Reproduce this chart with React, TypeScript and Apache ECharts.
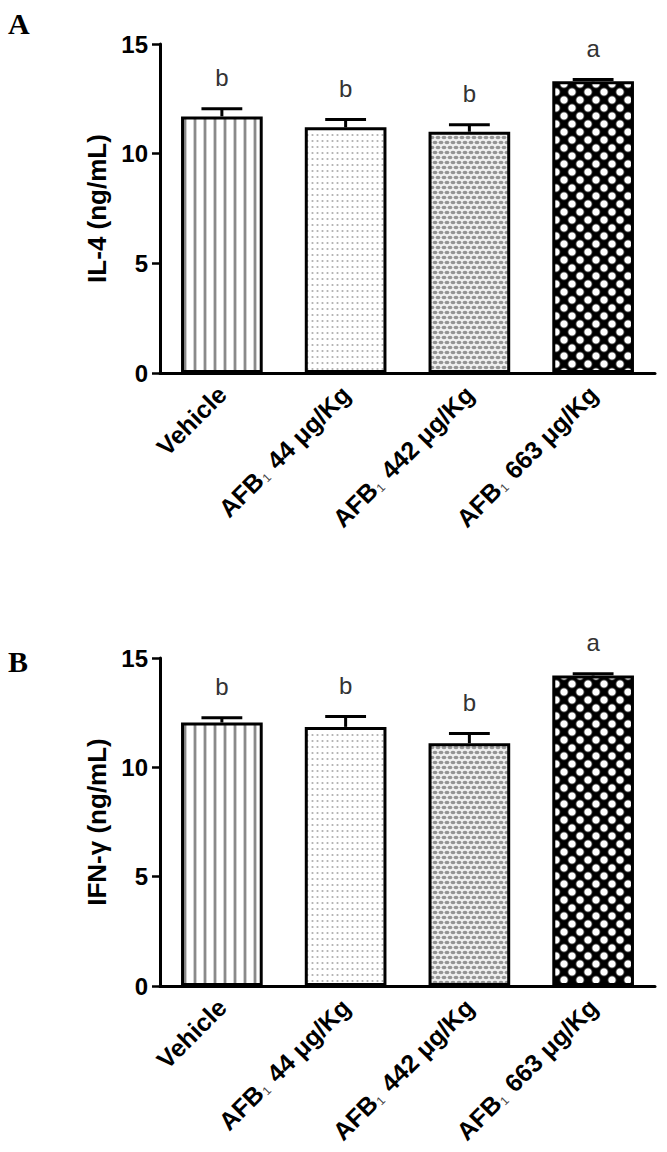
import React, { useEffect, useRef } from "react";
import * as echarts from "echarts";

const categories = ["Vehicle", "AFB1 44 μg/Kg", "AFB1 442 μg/Kg", "AFB1 663 μg/Kg"];
const il4Mean = [11.7, 11.2, 11.0, 13.3];
const il4Err = [0.35, 0.36, 0.32, 0.08];
const il4Letters = ["b", "b", "b", "a"];
const ifnMean = [12.05, 11.85, 11.1, 14.2];
const ifnErr = [0.22, 0.48, 0.45, 0.08];
const ifnLetters = ["b", "b", "b", "a"];
const yMin = 0;
const yMax = 15;
const yInterval = 5;
const panelNames = ["IL-4 (ng/mL)", "IFN-γ (ng/mL)"];
const panelTags = ["A", "B"];

const SANS = "Liberation Sans, Arial, sans-serif";

function makeCanvas(w: number, h: number, draw: (ctx: CanvasRenderingContext2D) => void) {
  const c = document.createElement("canvas");
  c.width = w;
  c.height = h;
  const ctx = c.getContext("2d")!;
  draw(ctx);
  return c;
}

function patterns() {
  const stripes = makeCanvas(10, 4, (ctx) => {
    ctx.fillStyle = "#fff";
    ctx.fillRect(0, 0, 10, 4);
    ctx.fillStyle = "#d0d0d0";
    ctx.fillRect(3, 0, 4, 4);
    ctx.fillStyle = "#8a8a8a";
    ctx.fillRect(4, 0, 2, 4);
  });
  const dots = makeCanvas(5, 6, (ctx) => {
    ctx.fillStyle = "#fff";
    ctx.fillRect(0, 0, 5, 6);
    ctx.fillStyle = "#b0b0b0";
    ctx.beginPath();
    ctx.arc(2.5, 3, 1.1, 0, Math.PI * 2);
    ctx.fill();
  });
  const scales = makeCanvas(6, 10, (ctx) => {
    ctx.fillStyle = "#f0f0f0";
    ctx.fillRect(0, 0, 6, 10);
    ctx.fillStyle = "#949494";
    const pts = [[3, 2.5], [0, 7.5], [6, 7.5]];
    pts.forEach(([x, y]) => {
      ctx.beginPath();
      ctx.ellipse(x, y, 2.4, 1.7, 0, 0, Math.PI * 2);
      ctx.fill();
    });
  });
  const diamonds = makeCanvas(16, 16, (ctx) => {
    ctx.fillStyle = "#000";
    ctx.fillRect(0, 0, 16, 16);
    const pts = [[4, 4], [12, 12], [-4, 12], [20, 4], [12, -4], [4, 20]];
    pts.forEach(([x, y]) => {
      const g = ctx.createRadialGradient(x, y, 0, x, y, 5.2);
      g.addColorStop(0, "#fff");
      g.addColorStop(0.6, "#fff");
      g.addColorStop(1, "rgba(0,0,0,0)");
      ctx.fillStyle = g;
      ctx.beginPath();
      ctx.arc(x, y, 5.2, 0, Math.PI * 2);
      ctx.fill();
    });
  });
  return [stripes, dots, scales, diamonds].map((c) => ({
    image: c,
    repeat: "repeat",
    imageWidth: c.width,
    imageHeight: c.height,
  }));
}

function labelFmt(v: string) {
  if (v.startsWith("AFB1")) {
    return "{n|AFB}{s|1}{n|" + v.slice(4) + "}";
  }
  return "{n|" + v + "}";
}

export default function App() {
  const ref = useRef<HTMLDivElement>(null);
  useEffect(() => {
    document.body.style.margin = "0";
    const chart = echarts.init(ref.current!, null, { renderer: "svg" });
    const pats = patterns();
    const grids = [
      { left: 160, right: 12, top: 44, height: 329 },
      { left: 160, right: 12, top: 658, height: 328 },
    ];
    const means = [il4Mean, ifnMean];
    const errs = [il4Err, ifnErr];
    const letters = [il4Letters, ifnLetters];

    const xAxes = grids.map((_, i) => ({
      type: "category",
      gridIndex: i,
      data: categories,
      axisLine: { lineStyle: { color: "#000", width: 3 } },
      axisTick: { alignWithLabel: true, length: 7, lineStyle: { color: "#000", width: 2.5 } },
      axisLabel: {
        rotate: 45,
        margin: 17,
        interval: 0,
        formatter: labelFmt,
        rich: {
          n: { fontSize: 25, fontWeight: "bold", fontFamily: SANS, color: "#000" },
          s: { fontSize: 12, fontFamily: SANS, color: "#444", verticalAlign: "bottom", padding: [9, 2, 0, 1] },
        },
      },
    }));
    const yAxes = grids.map((_, i) => ({
      type: "value",
      gridIndex: i,
      min: yMin,
      max: yMax,
      interval: yInterval,
      name: panelNames[i],
      nameLocation: "middle",
      nameGap: 50,
      nameTextStyle: { fontSize: 26, fontWeight: "bold", fontFamily: SANS, color: "#000" },
      axisLine: { show: true, lineStyle: { color: "#000", width: 3 } },
      axisTick: { show: true, length: 8, lineStyle: { color: "#000", width: 2.5 } },
      splitLine: { show: false },
      axisLabel: { fontSize: 24, fontWeight: "bold", fontFamily: SANS, color: "#000", margin: 12 },
    }));

    const series: any[] = [];
    grids.forEach((_, i) => {
      series.push({
        type: "bar",
        xAxisIndex: i,
        yAxisIndex: i,
        barWidth: "66%",
        silent: true,
        data: means[i].map((v, k) => ({
          value: v,
          itemStyle: { color: pats[k], borderColor: "#000", borderWidth: 3 },
        })),
      });
      series.push({
        type: "custom",
        xAxisIndex: i,
        yAxisIndex: i,
        silent: true,
        z: 5,
        data: means[i].map((v, k) => [k, v, errs[i][k]]),
        renderItem: (params: any, api: any) => {
          const k = api.value(0);
          const m = api.value(1);
          const e = api.value(2);
          const base = api.coord([k, m]);
          const top = api.coord([k, m + e]);
          const bw = api.size([1, 0])[0] * 0.66;
          const half = bw / 4;
          return {
            type: "group",
            children: [
              { type: "line", shape: { x1: top[0], y1: base[1], x2: top[0], y2: top[1] }, style: { stroke: "#000", lineWidth: 3 } },
              { type: "line", shape: { x1: top[0] - half, y1: top[1], x2: top[0] + half, y2: top[1] }, style: { stroke: "#000", lineWidth: 3 } },
              {
                type: "text",
                x: top[0],
                y: top[1] - 31,
                style: {
                  text: letters[i][params.dataIndex],
                  fontSize: 24,
                  fontFamily: SANS,
                  fill: "#333",
                  align: "center",
                  verticalAlign: "middle",
                },
              },
            ],
          };
        },
      });
    });

    chart.setOption({
      animation: false,
      backgroundColor: "#fff",
      grid: grids,
      xAxis: xAxes,
      yAxis: yAxes,
      series,
      graphic: panelTags.map((t, i) => ({
        type: "text",
        left: 8,
        top: i === 0 ? 8 : 646,
        style: { text: t, fontSize: 30, fontWeight: "bold", fontFamily: "Liberation Serif, Times New Roman, serif", fill: "#000" },
      })),
    } as any);
    return () => chart.dispose();
  }, []);
  return <div ref={ref} style={{ width: 667, height: 1152 }} />;
}
